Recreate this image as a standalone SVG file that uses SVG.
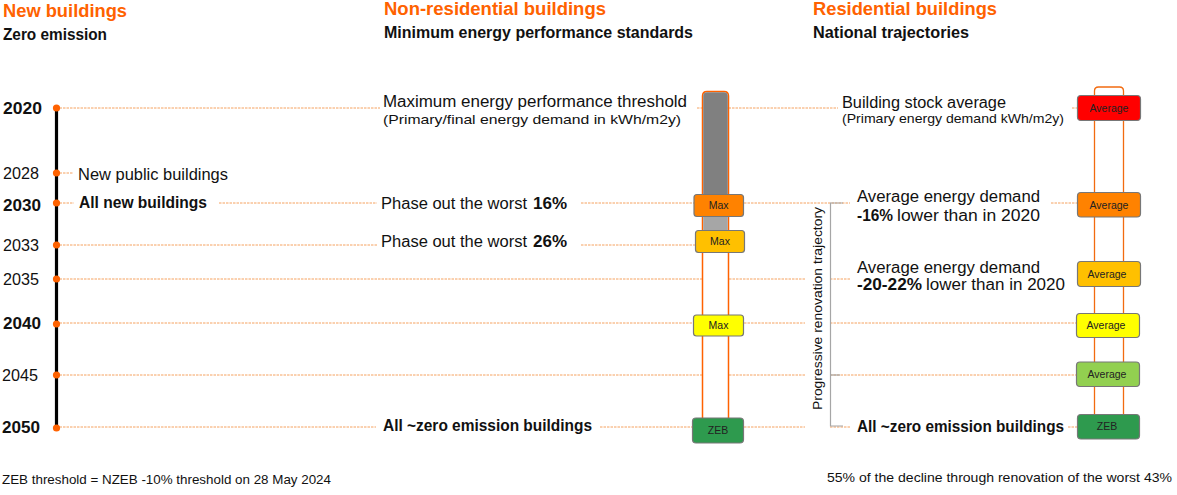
<svg xmlns="http://www.w3.org/2000/svg" width="1177" height="495" viewBox="0 0 1177 495">
<style>
text{font-family:"Liberation Sans",Arial,sans-serif;fill:#111}
.h{font-size:18px;font-weight:bold;fill:#FF6200}
.s{font-size:16px;font-weight:bold}
.yb{font-size:16px;font-weight:bold}
.yr{font-size:16px}
.t{font-size:16px}
.tb{font-size:16px;font-weight:bold}
.sm{font-size:13px}
.bl{font-size:10.5px;fill:#222;text-anchor:middle}
.d{stroke:#F28C38;stroke-width:0.8;stroke-dasharray:2.5 1;fill:none}
.box{stroke:#777;stroke-width:1.2}
.dot{fill:#FF6200}
</style>
<rect width="1177" height="495" fill="#fff"/>
<g id="headers">
<text class="h" x="3" y="17" textLength="124" lengthAdjust="spacingAndGlyphs">New buildings</text>
<text class="s" x="3" y="40" textLength="104" lengthAdjust="spacingAndGlyphs">Zero emission</text>
<text class="h" x="384" y="15" textLength="222" lengthAdjust="spacingAndGlyphs">Non-residential buildings</text>
<text class="s" x="384" y="38" textLength="309" lengthAdjust="spacingAndGlyphs">Minimum energy performance standards</text>
<text class="h" x="813" y="15" textLength="184" lengthAdjust="spacingAndGlyphs">Residential buildings</text>
<text class="s" x="813" y="38" textLength="156" lengthAdjust="spacingAndGlyphs">National trajectories</text>
</g>
<g id="connectors">
<line class="d" x1="56" y1="108" x2="380" y2="108"/>
<line class="d" x1="697" y1="108" x2="838" y2="108"/>
<line class="d" x1="1072" y1="108" x2="1077" y2="108"/>
<line class="d" x1="56" y1="173" x2="73" y2="173"/>
<line class="d" x1="56" y1="203" x2="74" y2="203"/>
<line class="d" x1="219" y1="203" x2="377" y2="203"/>
<line class="d" x1="581" y1="203" x2="694" y2="203"/>
<line class="d" x1="744" y1="203" x2="850" y2="203"/>
<line class="d" x1="1051" y1="203" x2="1077" y2="203"/>
<line class="d" x1="56" y1="245" x2="377" y2="245"/>
<line class="d" x1="581" y1="245" x2="695" y2="245"/>
<line class="d" x1="56" y1="279" x2="702" y2="279"/>
<line class="d" x1="729" y1="279" x2="805" y2="279"/>
<line class="d" x1="830" y1="279" x2="851" y2="279"/>
<line class="d" x1="56" y1="323" x2="693" y2="323"/>
<line class="d" x1="744" y1="323" x2="805" y2="323"/>
<line class="d" x1="830" y1="323" x2="1076" y2="323"/>
<line class="d" x1="56" y1="375" x2="702" y2="375"/>
<line class="d" x1="729" y1="375" x2="805" y2="375"/>
<line class="d" x1="830" y1="375" x2="1076" y2="375"/>
<line class="d" x1="56" y1="427" x2="376" y2="427"/>
<line class="d" x1="600" y1="427" x2="692" y2="427"/>
<line class="d" x1="744" y1="427" x2="805" y2="427"/>
<line class="d" x1="830" y1="427" x2="850" y2="427"/>
<line class="d" x1="1068" y1="427" x2="1077" y2="427"/>
</g>
<g id="timeline">
<line x1="56.5" y1="108" x2="56.5" y2="428" stroke="#000" stroke-width="3.2"/>
<circle class="dot" cx="56.5" cy="108" r="3.6"/>
<circle class="dot" cx="56.5" cy="173" r="3.6"/>
<circle class="dot" cx="56.5" cy="203" r="3.6"/>
<circle class="dot" cx="56.5" cy="245" r="3.6"/>
<circle class="dot" cx="56.5" cy="279" r="3.6"/>
<circle class="dot" cx="56.5" cy="324" r="3.6"/>
<circle class="dot" cx="56.5" cy="375" r="3.6"/>
<circle class="dot" cx="56.5" cy="428" r="3.6"/>
<text class="yb" x="3" y="114" textLength="39" lengthAdjust="spacingAndGlyphs">2020</text>
<text class="yr" x="3" y="179" textLength="36" lengthAdjust="spacingAndGlyphs">2028</text>
<text class="yb" x="3" y="211" textLength="38" lengthAdjust="spacingAndGlyphs">2030</text>
<text class="yr" x="3" y="251" textLength="36" lengthAdjust="spacingAndGlyphs">2033</text>
<text class="yr" x="3" y="285" textLength="36" lengthAdjust="spacingAndGlyphs">2035</text>
<text class="yb" x="3" y="329" textLength="38" lengthAdjust="spacingAndGlyphs">2040</text>
<text class="yr" x="2" y="381" textLength="36" lengthAdjust="spacingAndGlyphs">2045</text>
<text class="yb" x="2" y="433" textLength="38" lengthAdjust="spacingAndGlyphs">2050</text>
</g>
<g id="new-buildings-labels">
<text class="t" x="78" y="180" textLength="150" lengthAdjust="spacingAndGlyphs">New public buildings</text>
<text class="tb" x="79" y="208" textLength="128" lengthAdjust="spacingAndGlyphs">All new buildings</text>
</g>
<g id="nonres-labels">
<text class="t" x="383" y="107" textLength="304" lengthAdjust="spacingAndGlyphs">Maximum energy performance threshold</text>
<text class="sm" x="383" y="124" textLength="298" lengthAdjust="spacingAndGlyphs">(Primary/final energy demand in kWh/m2y)</text>
<text class="t" x="381" y="209" textLength="146" lengthAdjust="spacingAndGlyphs">Phase out the worst</text>
<text class="tb" x="533" y="209" textLength="34" lengthAdjust="spacingAndGlyphs">16%</text>
<text class="t" x="381" y="247" textLength="146" lengthAdjust="spacingAndGlyphs">Phase out the worst</text>
<text class="tb" x="533" y="247" textLength="34" lengthAdjust="spacingAndGlyphs">26%</text>
<text class="tb" x="383" y="431" textLength="209" lengthAdjust="spacingAndGlyphs">All ~zero emission buildings</text>
</g>
<g id="nonres-bar">
<path d="M702.5 418 V96 Q702.5 91.5 707 91.5 H724 Q728.5 91.5 728.5 96 V418" fill="none" stroke="#FF6200" stroke-width="1.5"/>
<path d="M703.2 194 V96 Q703.2 92.3 707 92.3 H724 Q727.8 92.3 727.8 96 V194 Z" fill="#808080"/>
<rect x="703.2" y="216" width="24.6" height="15" fill="#A6A6A6"/>
<g id="max-2030"><rect class="box" x="694" y="194.5" width="49.5" height="22" rx="3" fill="#FF8200"/><text class="bl" x="718.7" y="209">Max</text></g>
<g id="max-2033"><rect class="box" x="695.5" y="230.5" width="49" height="22" rx="3" fill="#FFC000"/><text class="bl" x="720" y="245">Max</text></g>
<g id="max-2040"><rect class="box" x="693.5" y="315" width="50" height="21" rx="3" fill="#FFFF00"/><text class="bl" x="718.5" y="329">Max</text></g>
<g id="zeb-nonres"><rect class="box" x="692.5" y="418" width="51" height="25" rx="3.5" fill="#2E9A4E"/><text class="bl" x="718" y="434">ZEB</text></g>
</g>
<g id="bracket">
<path d="M843 203 H830.5 V426 H843" fill="none" stroke="#A6A6A6" stroke-width="1.2"/>
<line x1="830.5" y1="375" x2="840" y2="375" stroke="#A6A6A6" stroke-width="1.2"/>
<text class="sm" transform="translate(822 308.5) rotate(-90)" text-anchor="middle" textLength="203" lengthAdjust="spacingAndGlyphs">Progressive renovation trajectory</text>
</g>
<g id="res-labels">
<text class="t" x="842" y="108" textLength="164" lengthAdjust="spacingAndGlyphs">Building stock average</text>
<text class="sm" x="842" y="123" textLength="222" lengthAdjust="spacingAndGlyphs">(Primary energy demand kWh/m2y)</text>
<text class="t" x="857" y="202" textLength="183" lengthAdjust="spacingAndGlyphs">Average energy demand</text>
<text class="tb" x="857" y="221" textLength="36" lengthAdjust="spacingAndGlyphs">-16%</text>
<text class="t" x="897" y="221" textLength="143" lengthAdjust="spacingAndGlyphs">lower than in 2020</text>
<text class="t" x="857" y="273" textLength="183" lengthAdjust="spacingAndGlyphs">Average energy demand</text>
<text class="tb" x="857" y="290" textLength="65" lengthAdjust="spacingAndGlyphs">-20-22%</text>
<text class="t" x="926" y="290" textLength="139" lengthAdjust="spacingAndGlyphs">lower than in 2020</text>
<text class="tb" x="857" y="432" textLength="207" lengthAdjust="spacingAndGlyphs">All ~zero emission buildings</text>
</g>
<g id="res-bar">
<path d="M1094.5 414 V91 Q1094.5 87 1098.5 87 H1119.5 Q1123.5 87 1123.5 91 V414" fill="none" stroke="#F26B10" stroke-width="1.3"/>
<g id="avg-2020"><rect class="box" x="1077.5" y="95.5" width="63" height="25" rx="3.5" fill="#FF0000"/><text class="bl" x="1109" y="111.5">Average</text></g>
<g id="avg-2030"><rect class="box" x="1077.5" y="192.5" width="63" height="24.5" rx="3.5" fill="#FF8200"/><text class="bl" x="1109" y="208.5">Average</text></g>
<g id="avg-2035"><rect class="box" x="1077.5" y="261.5" width="63" height="25" rx="3.5" fill="#FFC000"/><text class="bl" x="1107" y="277.5">Average</text></g>
<g id="avg-2040"><rect class="box" x="1076.5" y="313.5" width="63" height="24" rx="3.5" fill="#FFFF00"/><text class="bl" x="1106" y="329">Average</text></g>
<g id="avg-2045"><rect class="box" x="1076.5" y="362" width="63" height="24.5" rx="3.5" fill="#92D050"/><text class="bl" x="1107" y="377.5">Average</text></g>
<g id="zeb-res"><rect class="box" x="1077.5" y="414.5" width="62" height="24.5" rx="3.5" fill="#2E9A4E"/><text class="bl" x="1107" y="430">ZEB</text></g>
</g>
<g id="footers">
<text class="sm" x="2" y="484" textLength="329" lengthAdjust="spacingAndGlyphs">ZEB threshold = NZEB -10% threshold on 28 May 2024</text>
<text class="sm" x="827" y="482" textLength="345" lengthAdjust="spacingAndGlyphs">55% of the decline through renovation of the worst 43%</text>
</g>
</svg>
